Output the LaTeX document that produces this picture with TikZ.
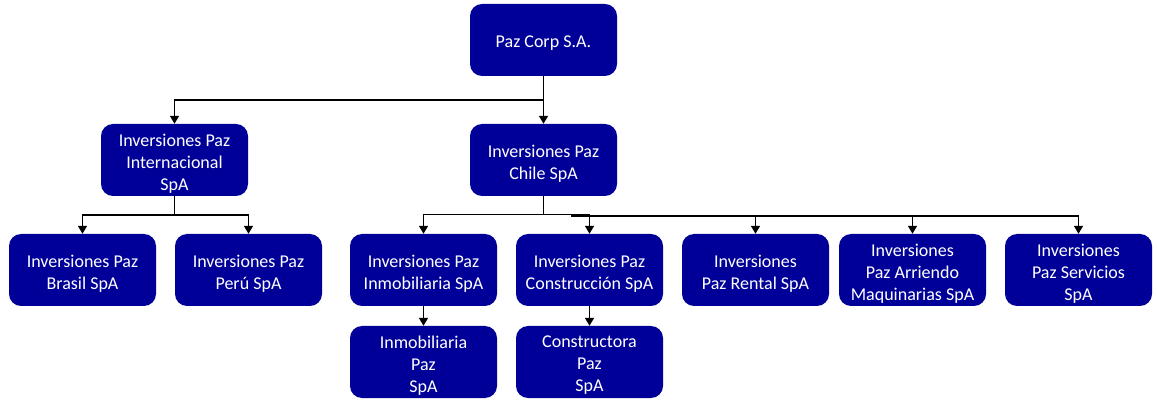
\documentclass[tikz,border=0pt]{standalone}
\usepackage{fontspec}
\setmainfont{Carlito}
\usetikzlibrary{arrows.meta}
\definecolor{boxblue}{RGB}{0,0,153}
\begin{document}
\begin{tikzpicture}[x=1pt,y=-1pt,
  orgbox/.style={draw=none,fill=boxblue,rounded corners=12pt,minimum width=147pt,minimum height=72pt,
    inner sep=0pt,
    label={[inner sep=0pt,align=center,text=white,font=\fontsize{18}{22}\selectfont,yshift=-3.5pt]center:#1}},
  conn/.style={line width=1.5pt,black},
  arr/.style={conn,-{Triangle[width=9pt,length=8pt]}}]
\useasboundingbox (0,0) rectangle (1157,403);
\node[orgbox={Paz Corp S.A.}] (corp) at (543.5,40) {};
\node[orgbox={Inversiones Paz\\Internacional\\SpA}] (intl) at (174.5,160) {};
\node[orgbox={Inversiones Paz\\Chile SpA}] (chile) at (543.5,160) {};
\node[orgbox={Inversiones Paz\\Brasil SpA}] (brasil) at (82.5,270) {};
\node[orgbox={Inversiones Paz\\Perú SpA}] (peru) at (248.5,270) {};
\node[orgbox={Inversiones Paz\\Inmobiliaria SpA}] (inmo) at (423.5,270) {};
\node[orgbox={Inversiones Paz\\Construcción SpA}] (cons) at (589.5,270) {};
\node[orgbox={Inversiones\\Paz Rental SpA}] (rental) at (755.5,270) {};
\node[orgbox={Inversiones\\Paz Arriendo\\Maquinarias SpA}] (arr) at (912.5,270) {};
\node[orgbox={Inversiones\\Paz Servicios\\SpA}] (serv) at (1078.5,270) {};
\node[orgbox={Inmobiliaria\\Paz\\SpA}] (inmopaz) at (423.5,362) {};
\node[orgbox={Constructora\\Paz\\SpA}] (constr) at (589.5,362) {};

\coordinate (j1) at (543.5,100);
\draw[conn] (corp.south) -- (j1);
\draw[arr] (j1) -- (chile.north);
\draw[arr] (j1) -| (intl.north);

\coordinate (j2) at (174.5,215);
\draw[conn] (intl.south) -- (j2);
\draw[arr] (j2) -| (brasil.north);
\draw[arr] (j2) -| (peru.north);

\coordinate (j3) at (543.5,214.5);
\coordinate (j4) at (571,216);
\draw[conn] (chile.south) -- (j3);
\draw[arr] (j3) -| (inmo.north);
\draw[arr] (j3) -| (cons.north);
\draw[arr] (j4) -| (rental.north);
\draw[arr] (j4) -| (arr.north);
\draw[arr] (j4) -| (serv.north);

\draw[arr] (inmo.south) -- (inmopaz.north);
\draw[arr] (cons.south) -- (constr.north);
\end{tikzpicture}
\end{document}
